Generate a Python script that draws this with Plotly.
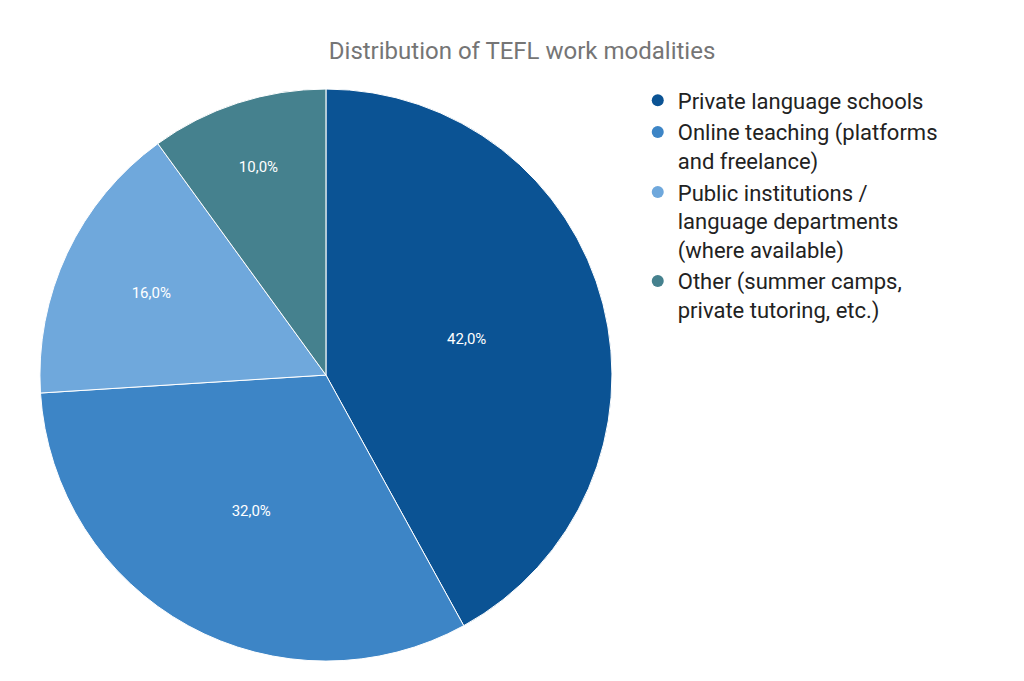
import plotly.graph_objects as go

labels = ["Private language schools",
          "Online teaching (platforms<br>and freelance)",
          "Public institutions /<br>language departments<br>(where available)",
          "Other (summer camps,<br>private tutoring, etc.)"]
values = [42.0, 32.0, 16.0, 10.0]
text_labels = ["42,0%", "32,0%", "16,0%", "10,0%"]
colors = ["#0b5394", "#3d85c6", "#6fa8dc", "#45818e"]

fig = go.Figure()
fig.add_trace(go.Pie(
    labels=labels, values=values, text=text_labels, textinfo="text",
    textposition="inside", insidetextorientation="horizontal",
    textfont=dict(color="white", size=15, family="Roboto"),
    marker=dict(colors=colors, line=dict(color="white", width=1)),
    sort=False, direction="clockwise", rotation=0, showlegend=False,
    domain=dict(x=[0.031, 0.59], y=[0.041, 0.881]), hoverinfo="skip"))
for lab, col in zip(labels, colors):
    fig.add_trace(go.Scatter(x=[None], y=[None], mode="markers", name=lab,
                             marker=dict(color=col, size=13, symbol="circle")))
fig.update_layout(
    width=1024, height=681, margin=dict(l=0, r=0, t=0, b=0),
    paper_bgcolor="white", plot_bgcolor="white",
    title=dict(text="Distribution of TEFL work modalities", x=0.502, xanchor="center",
               y=0.938, yanchor="middle",
               font=dict(family="Roboto", size=24, color="#757575")),
    xaxis=dict(visible=False), yaxis=dict(visible=False),
    legend=dict(x=0.615, y=0.895, xanchor="left", yanchor="top",
                font=dict(family="Roboto", size=22, color="#222222"),
                itemsizing="constant", tracegroupgap=6, valign="top"),
)
fig.write_html("out.html")
